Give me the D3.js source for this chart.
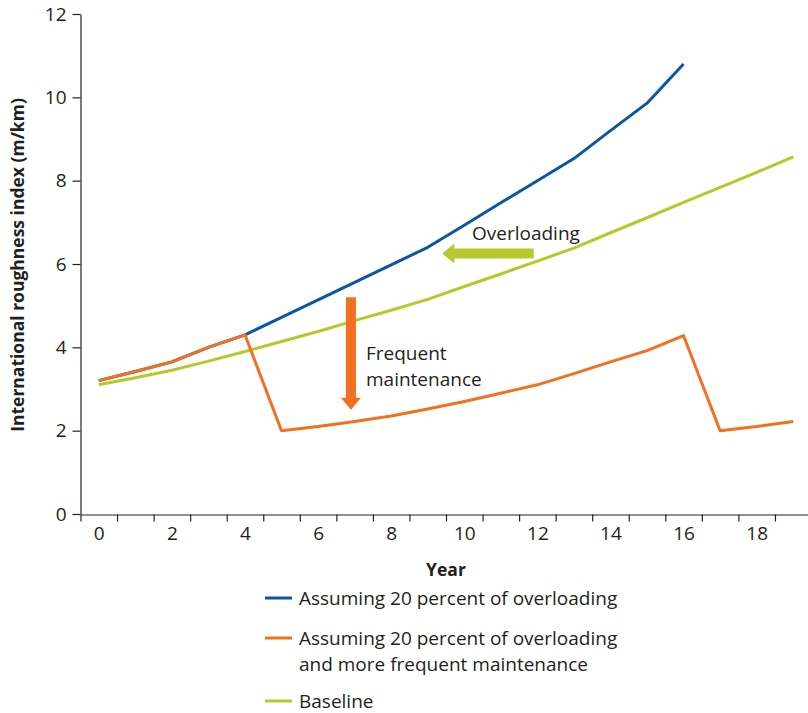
<!DOCTYPE html>
<html>
<head>
<meta charset="utf-8">
<script src="https://cdn.jsdelivr.net/npm/d3@7"></script>
<style>
  body { margin: 0; background: #fff; }
  svg { font-family: "Open Sans", "Noto Sans", sans-serif; }
  .axis path, .axis line { stroke: #231f20; stroke-width: 1.2; }
</style>
</head>
<body>
<script>
var years = d3.range(0, 20);
var yearLabels = [0, 2, 4, 6, 8, 10, 12, 14, 16, 18];
var yTicks = [0, 2, 4, 6, 8, 10, 12];

// 20 percent overloading (years 0-16)
var overloadYears = d3.range(0, 17);
var overload = [3.2, 3.42, 3.65, 4.0, 4.3, 4.72, 5.14, 5.56, 5.98, 6.4, 6.93, 7.47, 8.0, 8.53, 9.2, 9.86, 10.8];
// overloading + frequent maintenance (years 0-19)
var maint = [3.2, 3.42, 3.65, 4.0, 4.3, 2.0, 2.1, 2.22, 2.35, 2.52, 2.7, 2.9, 3.1, 3.37, 3.65, 3.92, 4.28, 2.0, 2.1, 2.22];
// baseline (years 0-19)
var baseline = [3.1, 3.27, 3.45, 3.67, 3.9, 4.14, 4.38, 4.64, 4.89, 5.15, 5.46, 5.76, 6.07, 6.38, 6.75, 7.11, 7.48, 7.84, 8.2, 8.57];

var seriesNames = ["Assuming 20 percent of overloading",
                   "Assuming 20 percent of overloading|and more frequent maintenance",
                   "Baseline"];
var colors = ["#0a56a5", "#f37021", "#b5c92b"];

var W = 808, H = 713;
var svg = d3.select("body").append("svg")
            .attr("width", W)
            .attr("height", H);

var x = d3.scaleLinear().domain([-0.5, 19.5]).range([80.5, 811.5]);
var y = d3.scaleLinear().domain([0, 12]).range([514, 14]);

// y axis
svg.append("g")
   .attr("class", "axis")
   .attr("transform", "translate(80.5,0)")
   .call(d3.axisLeft(y).tickValues(yTicks).tickSize(8).tickPadding(6).tickSizeOuter(0))
   .attr("font-size", 19).attr("font-family", null)
   .selectAll("text").attr("fill", "#231f20");

// x axis: tick marks at year boundaries, labels at band centres
svg.append("g")
   .attr("class", "axis")
   .attr("transform", "translate(0,514.5)")
   .call(d3.axisBottom(x).tickValues(d3.range(-0.5, 20, 1)).tickFormat("").tickSize(7).tickSizeOuter(0));
svg.append("g")
   .attr("class", "axis")
   .attr("transform", "translate(0,514.5)")
   .call(d3.axisBottom(x).tickValues(yearLabels).tickSize(0).tickPadding(12))
   .call(function(g) { g.select(".domain").remove(); })
   .attr("font-size", 19).attr("font-family", null)
   .selectAll("text").attr("fill", "#231f20");

// axis titles
svg.append("text")
   .attr("x", 446).attr("y", 576)
   .attr("text-anchor", "middle")
   .style("font-weight", "bold").style("font-size", "17.5px").attr("fill", "#231f20")
   .text("Year");
svg.append("text")
   .attr("transform", "translate(24,265) rotate(-90)")
   .attr("text-anchor", "middle")
   .style("font-weight", "bold").style("font-size", "17.5px").attr("fill", "#231f20")
   .text("International roughness index (m/km)");

var line = d3.line()
    .x(function(d) { return x(d[0]); })
    .y(function(d) { return y(d[1]); });

var lineData = [
  d3.zip(years, baseline),
  d3.zip(overloadYears, overload),
  d3.zip(years, maint)
];
var lineColors = [colors[2], colors[0], colors[1]];

svg.selectAll(".series")
   .data(lineData)
   .enter().append("path")
   .attr("class", "series")
   .attr("d", line)
   .attr("fill", "none")
   .attr("stroke", function(d, i) { return lineColors[i]; })
   .attr("stroke-width", 3)
   .attr("stroke-linejoin", "round");

// annotation arrows
function arrow(x1, y1, x2, y2, color) {
  var dx = x2 - x1, dy = y2 - y1, len = Math.sqrt(dx * dx + dy * dy);
  var ux = dx / len, uy = dy / len, px = -uy, py = ux;
  var hl = 12, hw = 10, bw = 5;
  var bx = x2 - ux * hl, by = y2 - uy * hl;
  var pts = [
    [x1 + px * bw, y1 + py * bw], [bx + px * bw, by + py * bw], [bx + px * hw, by + py * hw],
    [x2, y2],
    [bx - px * hw, by - py * hw], [bx - px * bw, by - py * bw], [x1 - px * bw, y1 - py * bw]
  ];
  svg.append("path").attr("d", "M" + pts.join("L") + "Z").attr("fill", color);
}
arrow(x(11.9), y(6.25), x(9.4), y(6.25), colors[2]);
arrow(x(6.9), y(5.2), x(6.9), y(2.5), colors[1]);

svg.append("text")
   .attr("x", 472).attr("y", 240)
   .style("font-size", "19px").attr("fill", "#231f20")
   .text("Overloading");
svg.append("text")
   .attr("x", 366).attr("y", 360)
   .style("font-size", "19px").attr("fill", "#231f20")
   .text("Frequent");
svg.append("text")
   .attr("x", 366).attr("y", 386)
   .style("font-size", "19px").attr("fill", "#231f20")
   .text("maintenance");

// legend
var legendY = [598, 638, 701];
var lg = svg.selectAll(".legend")
   .data(seriesNames)
   .enter().append("g")
   .attr("class", "legend")
   .attr("transform", function(d, i) { return "translate(265," + legendY[i] + ")"; });
lg.append("line")
  .attr("x1", 0).attr("x2", 27)
  .attr("stroke", function(d, i) { return colors[i]; })
  .attr("stroke-width", 3);
lg.each(function(d) {
  var parts = d.split("|");
  var t = d3.select(this).append("text")
     .attr("x", 34).attr("y", 7)
     .style("font-size", "19px").attr("fill", "#231f20");
  parts.forEach(function(p, j) {
    t.append("tspan").attr("x", 34).attr("dy", j === 0 ? 0 : 26).text(p);
  });
});
</script>
</body>
</html>
